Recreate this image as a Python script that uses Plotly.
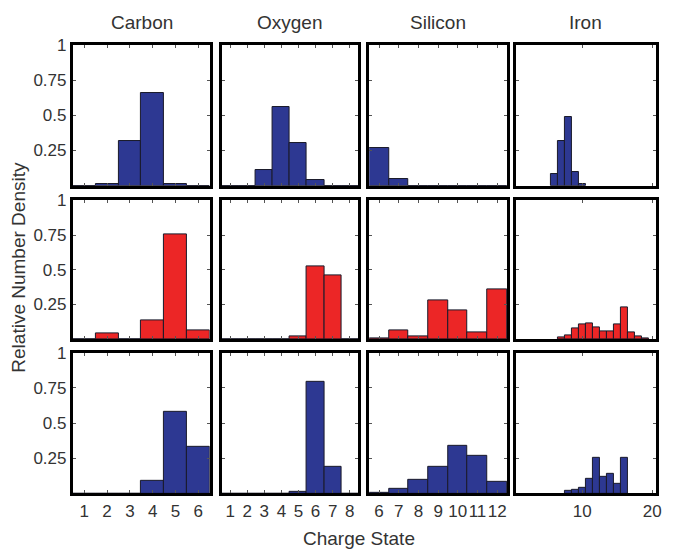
import plotly.graph_objects as go

# The page adds an 8px body margin; size the figure so it ends at the window edge
OFF = 8
W, H = 680 - OFF, 550 - OFF

elements = ["Carbon", "Oxygen", "Silicon", "Iron"]

carbon_states = [1, 2, 3, 4, 5, 6]
carbon_top = [0, 0.01, 0.32, 0.66, 0.015, 0]
carbon_mid = [0, 0.042, 0, 0.137, 0.752, 0.062]
carbon_bot = [0, 0, 0, 0.09, 0.577, 0.334]

oxygen_states = [1, 2, 3, 4, 5, 6, 7, 8]
oxygen_top = [0, 0, 0.11, 0.557, 0.30, 0.04, 0, 0]
oxygen_mid = [0, 0, 0, 0, 0.016, 0.523, 0.458, 0]
oxygen_bot = [0, 0, 0, 0, 0.014, 0.796, 0.192, 0]

silicon_states = [6, 7, 8, 9, 10, 11, 12]
silicon_top = [0.27, 0.05, 0, 0, 0, 0, 0]
silicon_mid = [0.004, 0.062, 0.019, 0.282, 0.208, 0.051, 0.356]
silicon_bot = [0.003, 0.034, 0.10, 0.188, 0.336, 0.27, 0.085]

iron_top_states = [6, 7, 8, 9, 10]
iron_top = [0.086, 0.316, 0.49, 0.098, 0.014]
iron_mid_states = [7, 8, 9, 10, 11, 12, 13, 14, 15, 16, 17, 18, 19]
iron_mid = [0.014, 0.028, 0.079, 0.106, 0.116, 0.081, 0.058, 0.058, 0.106, 0.227, 0.049, 0.016, 0.007]
iron_bot_states = [8, 9, 10, 11, 12, 13, 14, 15, 16]
iron_bot = [0.02, 0.023, 0.04, 0.105, 0.254, 0.117, 0.14, 0.069, 0.25]

y_ticks = [0.25, 0.5, 0.75, 1]
y_tick_labels = ["0.25", "0.5", "0.75", "1"]
carbon_ticks = [1, 2, 3, 4, 5, 6]
oxygen_ticks = [1, 2, 3, 4, 5, 6, 7, 8]
silicon_ticks = [6, 7, 8, 9, 10, 11, 12]
iron_ticks = [10, 20]

panels = [
    [(carbon_states, carbon_top), (oxygen_states, oxygen_top), (silicon_states, silicon_top), (iron_top_states, iron_top)],
    [(carbon_states, carbon_mid), (oxygen_states, oxygen_mid), (silicon_states, silicon_mid), (iron_mid_states, iron_mid)],
    [(carbon_states, carbon_bot), (oxygen_states, oxygen_bot), (silicon_states, silicon_bot), (iron_bot_states, iron_bot)],
]
row_colors = ["#2D3892", "#EC2626", "#2D3892"]
x_ranges = [[0.5, 6.5], [0.5, 8.5], [5.5, 12.5], [0.5, 20.5]]
x_tickvals = [carbon_ticks, oxygen_ticks, silicon_ticks, iron_ticks]

# panel frame centre-lines in window pixels
col_px = [(72, 213), (222, 363), (371, 513), (519, 663)]
row_px = [(35, 181), (193, 337), (348, 494)]
LW = 3


def fx(px):
    return (px - OFF) / W


def fy(py):
    return 1 - (py - OFF) / H


fig = go.Figure()
layout = {}
font_family = "Liberation Sans, Arial, sans-serif"
txt_color = "#333333"

k = 0
for r in range(3):
    for c in range(4):
        k += 1
        xa = "x" if k == 1 else f"x{k}"
        ya = "y" if k == 1 else f"y{k}"
        xs, ys = panels[r][c]
        fig.add_trace(go.Bar(
            x=xs, y=ys, width=1, xaxis=xa, yaxis=ya,
            marker=dict(color=row_colors[r], line=dict(color="#1a1a2a", width=1)),
            showlegend=False,
        ))
        x0, x1 = col_px[c]
        y0, y1 = row_px[r]
        layout["xaxis" if k == 1 else f"xaxis{k}"] = dict(
            domain=[fx(x0 + LW / 2), fx(x1 - LW / 2)], anchor=ya, range=x_ranges[c],
            tickvals=x_tickvals[c], showticklabels=(r == 2), tickangle=0,
            ticks="inside", ticklen=3, tickcolor="#555", mirror="allticks",
            showline=True, linecolor="black", linewidth=LW, showgrid=False, zeroline=False,
            tickfont=dict(size=17, color=txt_color, family=font_family),
            fixedrange=True,
        )
        layout["yaxis" if k == 1 else f"yaxis{k}"] = dict(
            domain=[fy(y1 - LW / 2), fy(y0 + LW / 2)], anchor=xa, range=[0, 1],
            tickvals=y_ticks, ticktext=y_tick_labels, showticklabels=(c == 0),
            ticks="inside", ticklen=3, tickcolor="#555", mirror="allticks",
            showline=True, linecolor="black", linewidth=LW, showgrid=False, zeroline=False,
            tickfont=dict(size=17, color=txt_color, family=font_family),
            fixedrange=True,
        )

annotations = []
title_cx = [143.5, 292, 442, 591]
for c, name in enumerate(elements):
    annotations.append(dict(
        text=name, x=fx(title_cx[c]), y=fy(14), xref="paper", yref="paper",
        showarrow=False, font=dict(size=19, color=txt_color, family=font_family),
        xanchor="center", yanchor="middle",
    ))
annotations.append(dict(
    text="Relative Number Density", x=fx(19), y=fy(262), xref="paper", yref="paper",
    showarrow=False, textangle=-90, font=dict(size=19, color=txt_color, family=font_family),
    xanchor="center", yanchor="middle",
))
annotations.append(dict(
    text="Charge State", x=fx(362), y=fy(538), xref="paper", yref="paper",
    showarrow=False, font=dict(size=19, color=txt_color, family=font_family),
    xanchor="center", yanchor="middle",
))

fig.update_layout(
    width=W, height=H, margin=dict(l=0, r=0, t=0, b=0),
    paper_bgcolor="white", plot_bgcolor="white",
    bargap=0, annotations=annotations, **layout,
)
fig.write_html("out.html")
